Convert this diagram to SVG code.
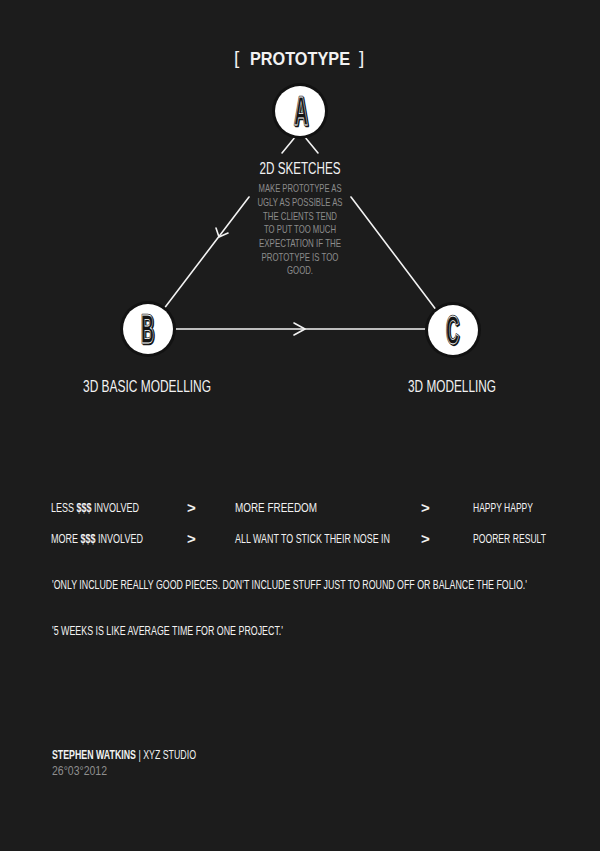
<svg xmlns="http://www.w3.org/2000/svg" width="600" height="851" viewBox="0 0 600 851">
<style>
text{font-family:"Liberation Sans",Arial,sans-serif;}
.w{fill:#f2f2f2;}
.g{fill:#8c8c8c;}
.b{font-weight:bold;}
.ln{stroke:#f2f2f2;stroke-width:1.6;fill:none;stroke-linecap:round;stroke-linejoin:round;}
.halo{fill:#121212;}
.disc{fill:#ffffff;}
.ls{font-size:40px;font-weight:bold;}
.l0{fill:#141414;stroke:#141414;stroke-width:2.4;stroke-linejoin:round;}
.l1{fill:#141414;stroke:#141414;stroke-width:2.4;stroke-linejoin:round;}
.l2{fill:none;stroke:#ffffff;stroke-width:0.8;}
</style>
<rect width="600" height="851" fill="#1c1c1c"/>

<g id="title">
<text class="w" x="234" y="64" font-size="19">[</text>
<text class="w b" x="250" y="65" font-size="18" textLength="100" lengthAdjust="spacingAndGlyphs">PROTOTYPE</text>
<text class="w" x="359" y="64" font-size="19">]</text>
</g>

<g id="connectors">
<path class="ln" d="M296,136 L282,153"/>
<path class="ln" d="M304,136 L318,153"/>
<path class="ln" d="M249,197 L163,310"/>
<path class="ln" d="M216,228 L219,237 L228,233"/>
<path class="ln" d="M351,197 L437,311"/>
<path class="ln" d="M173,329 L428,329"/>
<path class="ln" d="M294,323 L305,329 L294,335"/>
</g>

<g id="nodeA">
<circle class="halo" cx="300" cy="111" r="28"/>
<circle class="disc" cx="300" cy="111" r="25"/>
<text class="ls l0" x="295" y="126" textLength="14" lengthAdjust="spacingAndGlyphs">A</text>
<text class="ls l1" x="294" y="125" textLength="14" lengthAdjust="spacingAndGlyphs">A</text>
<text class="ls l2" x="294" y="125" textLength="14" lengthAdjust="spacingAndGlyphs">A</text>
</g>
<g id="labelA">
<text class="w" x="300" y="174" font-size="16" text-anchor="middle" textLength="81" lengthAdjust="spacingAndGlyphs">2D SKETCHES</text>
<g class="g" font-size="11" text-anchor="middle">
<text x="300" y="192" textLength="83" lengthAdjust="spacingAndGlyphs">MAKE PROTOTYPE AS</text>
<text x="300" y="206" textLength="85" lengthAdjust="spacingAndGlyphs">UGLY AS POSSIBLE AS</text>
<text x="300" y="219.5" textLength="74" lengthAdjust="spacingAndGlyphs">THE CLIENTS TEND</text>
<text x="300" y="233" textLength="72" lengthAdjust="spacingAndGlyphs">TO PUT TOO MUCH</text>
<text x="300" y="247" textLength="82" lengthAdjust="spacingAndGlyphs">EXPECTATION IF THE</text>
<text x="300" y="260.5" textLength="77" lengthAdjust="spacingAndGlyphs">PROTOTYPE IS TOO</text>
<text x="300" y="274" textLength="26" lengthAdjust="spacingAndGlyphs">GOOD.</text>
</g>
</g>

<g id="nodeB">
<circle class="halo" cx="148" cy="329" r="28"/>
<circle class="disc" cx="148" cy="329" r="25"/>
<text class="ls l0" x="142" y="344" textLength="13" lengthAdjust="spacingAndGlyphs">B</text>
<text class="ls l1" x="141" y="343" textLength="13" lengthAdjust="spacingAndGlyphs">B</text>
<text class="ls l2" x="141" y="343" textLength="13" lengthAdjust="spacingAndGlyphs">B</text>
<text class="w" x="83" y="392" font-size="16.5" textLength="128" lengthAdjust="spacingAndGlyphs">3D BASIC MODELLING</text>
</g>

<g id="nodeC">
<circle class="halo" cx="453" cy="330" r="28"/>
<circle class="disc" cx="453" cy="330" r="25"/>
<text class="ls l0" x="447" y="345" textLength="13" lengthAdjust="spacingAndGlyphs">C</text>
<text class="ls l1" x="446" y="344" textLength="13" lengthAdjust="spacingAndGlyphs">C</text>
<text class="ls l2" x="446" y="344" textLength="13" lengthAdjust="spacingAndGlyphs">C</text>
<text class="w" x="408" y="392" font-size="16.5" textLength="88" lengthAdjust="spacingAndGlyphs">3D MODELLING</text>
</g>

<g id="rows" class="w" font-size="12.5">
<text x="51" y="512" textLength="88" lengthAdjust="spacingAndGlyphs">LESS <tspan class="b">$$$</tspan> INVOLVED</text>
<text class="b" x="187" y="513" font-size="15">&gt;</text>
<text x="235" y="512" textLength="82" lengthAdjust="spacingAndGlyphs">MORE FREEDOM</text>
<text class="b" x="421" y="513" font-size="15">&gt;</text>
<text x="473" y="512" textLength="60" lengthAdjust="spacingAndGlyphs">HAPPY HAPPY</text>

<text x="51" y="542.5" textLength="92" lengthAdjust="spacingAndGlyphs">MORE <tspan class="b">$$$</tspan> INVOLVED</text>
<text class="b" x="187" y="543.5" font-size="15">&gt;</text>
<text x="235" y="542.5" textLength="155" lengthAdjust="spacingAndGlyphs">ALL WANT TO STICK THEIR NOSE IN</text>
<text class="b" x="421" y="543.5" font-size="15">&gt;</text>
<text x="473" y="542.5" textLength="73" lengthAdjust="spacingAndGlyphs">POORER RESULT</text>
</g>

<g id="quotes" class="w" font-size="12">
<text x="52" y="589" textLength="475" lengthAdjust="spacingAndGlyphs">'ONLY INCLUDE REALLY GOOD PIECES. DON'T INCLUDE STUFF JUST TO ROUND OFF OR BALANCE THE FOLIO.'</text>
<text x="52" y="635" textLength="231" lengthAdjust="spacingAndGlyphs">'5 WEEKS IS LIKE AVERAGE TIME FOR ONE PROJECT.'</text>
</g>

<g id="footer" font-size="12">
<text class="w" x="52" y="759" textLength="144" lengthAdjust="spacingAndGlyphs"><tspan class="b">STEPHEN WATKINS</tspan> | XYZ STUDIO</text>
<text x="52" y="775" fill="#8f8f8f" textLength="55" lengthAdjust="spacingAndGlyphs">26°03°2012</text>
</g>
</svg>
